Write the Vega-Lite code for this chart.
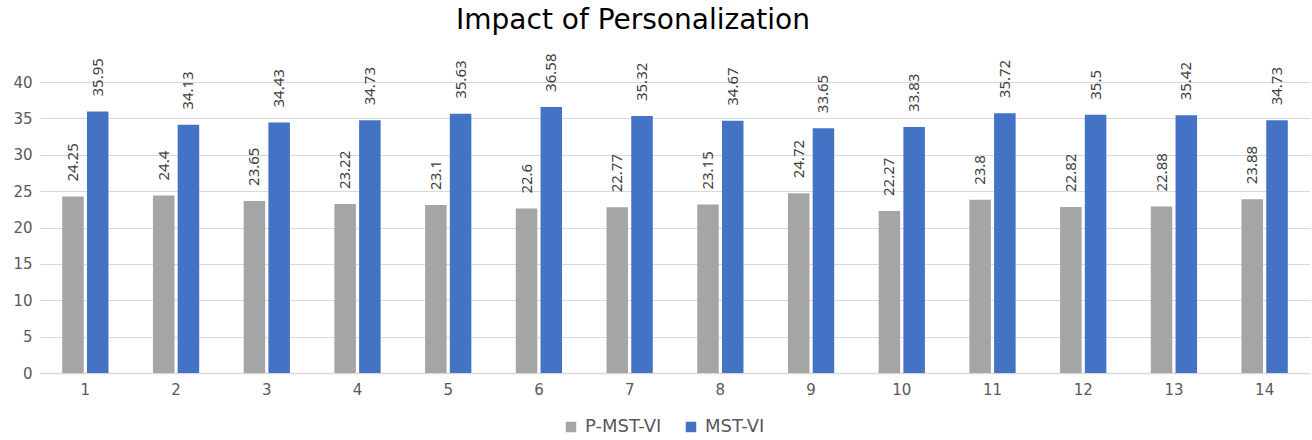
{
  "$schema": "https://vega.github.io/schema/vega-lite/v6.json",
  "width": 1270,
  "height": 291,
  "autosize": {"type": "none"},
  "padding": {"left": 40, "top": 82, "right": 2, "bottom": 67},
  "background": "white",
  "config": {
    "font": "Noto Sans",
    "view": {"stroke": null}
  },
  "title": {
    "text": "Impact of Personalization",
    "font": "DejaVu Sans",
    "fontSize": 28,
    "fontWeight": "normal",
    "color": "#000000",
    "anchor": "middle",
    "dx": -42,
    "offset": 19
  },
  "data": {
    "values": [
      {"group": 1, "series": "P-MST-VI", "value": 24.25},
      {"group": 1, "series": "MST-VI", "value": 35.95},
      {"group": 2, "series": "P-MST-VI", "value": 24.4},
      {"group": 2, "series": "MST-VI", "value": 34.13},
      {"group": 3, "series": "P-MST-VI", "value": 23.65},
      {"group": 3, "series": "MST-VI", "value": 34.43},
      {"group": 4, "series": "P-MST-VI", "value": 23.22},
      {"group": 4, "series": "MST-VI", "value": 34.73},
      {"group": 5, "series": "P-MST-VI", "value": 23.1},
      {"group": 5, "series": "MST-VI", "value": 35.63},
      {"group": 6, "series": "P-MST-VI", "value": 22.6},
      {"group": 6, "series": "MST-VI", "value": 36.58},
      {"group": 7, "series": "P-MST-VI", "value": 22.77},
      {"group": 7, "series": "MST-VI", "value": 35.32},
      {"group": 8, "series": "P-MST-VI", "value": 23.15},
      {"group": 8, "series": "MST-VI", "value": 34.67},
      {"group": 9, "series": "P-MST-VI", "value": 24.72},
      {"group": 9, "series": "MST-VI", "value": 33.65},
      {"group": 10, "series": "P-MST-VI", "value": 22.27},
      {"group": 10, "series": "MST-VI", "value": 33.83},
      {"group": 11, "series": "P-MST-VI", "value": 23.8},
      {"group": 11, "series": "MST-VI", "value": 35.72},
      {"group": 12, "series": "P-MST-VI", "value": 22.82},
      {"group": 12, "series": "MST-VI", "value": 35.5},
      {"group": 13, "series": "P-MST-VI", "value": 22.88},
      {"group": 13, "series": "MST-VI", "value": 35.42},
      {"group": 14, "series": "P-MST-VI", "value": 23.88},
      {"group": 14, "series": "MST-VI", "value": 34.73}
    ]
  },
  "encoding": {
    "x": {
      "field": "group",
      "type": "ordinal",
      "scale": {"paddingInner": 0.49, "paddingOuter": 0.245},
      "axis": {
        "title": null,
        "labelAngle": 0,
        "labelFont": "DejaVu Sans",
        "labelFontSize": 15,
        "labelColor": "#595959",
        "labelPadding": 9,
        "ticks": false,
        "domain": true,
        "domainColor": "#d9d9d9",
        "domainWidth": 1.5
      }
    },
    "xOffset": {
      "field": "series",
      "type": "nominal",
      "sort": ["P-MST-VI", "MST-VI"],
      "scale": {"paddingInner": 0.13}
    },
    "y": {
      "field": "value",
      "type": "quantitative",
      "scale": {"domain": [0, 40]},
      "axis": {
        "title": null,
        "values": [0, 5, 10, 15, 20, 25, 30, 35, 40],
        "labelFont": "DejaVu Sans",
        "labelFontSize": 15,
        "labelColor": "#595959",
        "labelPadding": 8,
        "ticks": false,
        "domain": false,
        "gridColor": "#d9d9d9",
        "gridWidth": 1.2
      }
    }
  },
  "layer": [
    {
      "mark": {"type": "bar"},
      "encoding": {
        "color": {
          "field": "series",
          "type": "nominal",
          "scale": {"domain": ["P-MST-VI", "MST-VI"], "range": ["#A5A5A5", "#4472C4"]},
          "legend": {
            "title": null,
            "orient": "none",
            "direction": "horizontal",
            "legendX": 522,
            "legendY": 336,
            "symbolType": "square",
            "symbolSize": 110,
            "symbolStrokeWidth": 0,
            "labelFont": "DejaVu Sans",
            "labelFontSize": 18,
            "labelColor": "#595959",
            "columnPadding": 20,
            "labelOffset": 5
          }
        }
      }
    },
    {
      "mark": {
        "type": "text",
        "angle": 270,
        "align": "left",
        "baseline": "middle",
        "dx": 15,
        "fontSize": 15,
        "color": "#404040"
      },
      "encoding": {
        "text": {"field": "value", "type": "quantitative"}
      }
    }
  ]
}
